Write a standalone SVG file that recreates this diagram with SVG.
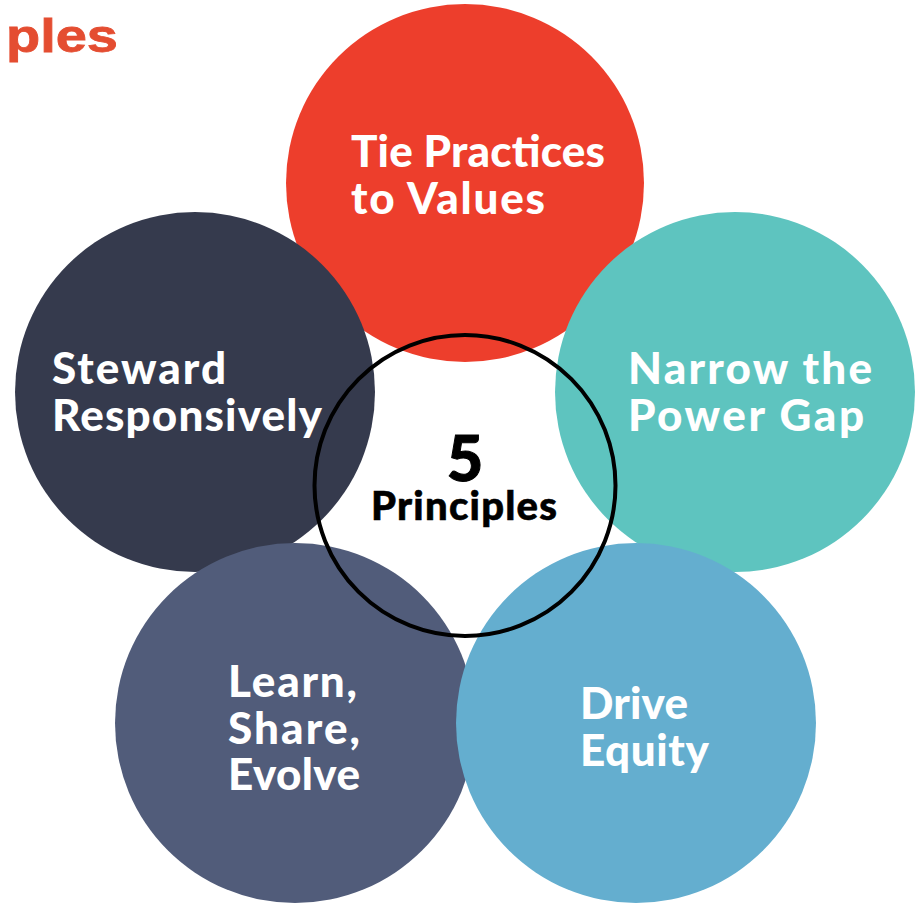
<svg xmlns="http://www.w3.org/2000/svg" width="920" height="904" viewBox="0 0 920 904">
  <style>
    .lbl { font-family: Lato, "Open Sans", "DejaVu Sans", sans-serif; font-weight: 900; font-size: 44px; fill: #ffffff; }
    .ctr { font-family: Lato, "Open Sans", "DejaVu Sans", sans-serif; font-weight: 900; fill: #000000; }
  </style>
  <rect width="920" height="904" fill="#ffffff"/>
  <text x="6" y="52" font-family="Liberation Sans, Arial, sans-serif" font-weight="700" font-size="47" fill="#E44D31" stroke="#E44D31" stroke-width="0.8" textLength="112" lengthAdjust="spacingAndGlyphs">ples</text>

  <g id="node-tie-practices">
    <circle cx="465" cy="183" r="179" fill="#ED3E2C"/>
  </g>
  <g id="node-steward">
    <circle cx="195" cy="392" r="180" fill="#353A4D"/>
  </g>
  <g id="node-narrow">
    <circle cx="735" cy="392" r="180" fill="#5EC4BF"/>
  </g>
  <g id="node-learn">
    <circle cx="295" cy="723" r="180" fill="#515C7A"/>
  </g>
  <g id="node-drive">
    <circle cx="636" cy="723" r="180" fill="#64AECF"/>
  </g>
  <g id="node-center">
    <circle cx="465" cy="485.5" r="150.5" fill="none" stroke="#000000" stroke-width="4"/>
    <text class="ctr" x="465" y="481" font-size="63" text-anchor="middle" stroke="#000000" stroke-width="1">5</text>
    <text class="ctr" x="371" y="520" font-size="40" textLength="186" stroke="#000000" stroke-width="0.6">Principles</text>
  </g>

  <g id="labels">
    <text class="lbl" x="351" y="167" textLength="254">Tie Practices</text>
    <text class="lbl" x="351" y="214" textLength="194">to Values</text>
    <text class="lbl" x="52" y="384" textLength="174">Steward</text>
    <text class="lbl" x="52" y="431" textLength="270">Responsively</text>
    <text class="lbl" x="628" y="384" textLength="244">Narrow the</text>
    <text class="lbl" x="628" y="431" textLength="236">Power Gap</text>
    <text class="lbl" x="228" y="697" textLength="129">Learn,</text>
    <text class="lbl" x="228" y="744" textLength="132">Share,</text>
    <text class="lbl" x="228" y="790" textLength="132">Evolve</text>
    <text class="lbl" x="580" y="719" textLength="108">Drive</text>
    <text class="lbl" x="580" y="766" textLength="129">Equity</text>
  </g>
  <g id="connectors"></g>
</svg>
